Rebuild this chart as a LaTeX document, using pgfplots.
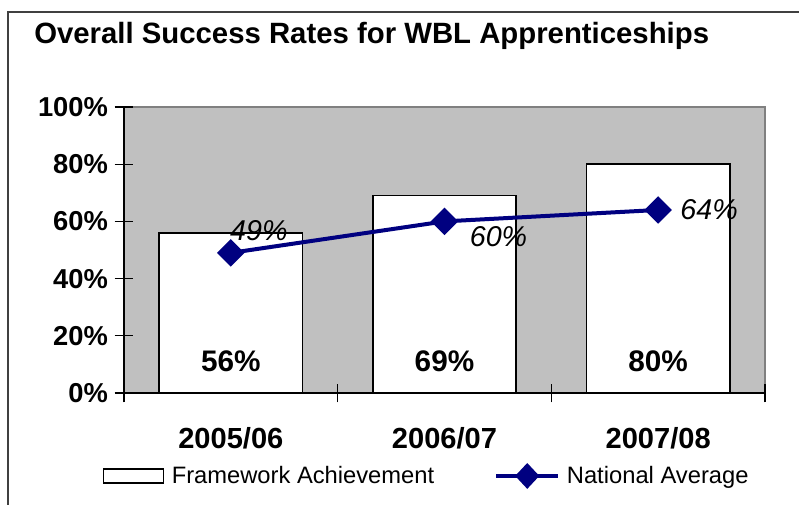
\documentclass[border=0pt]{standalone}
\usepackage{pgfplots}
\pgfplotsset{compat=1.18}
\usepackage{pgfplotstable}
\usepackage{fontspec}
\setmainfont{Liberation Sans}
\definecolor{navyline}{HTML}{000080}
\definecolor{plotgray}{HTML}{C0C0C0}
\definecolor{bordergray}{HTML}{808080}
\definecolor{framegray}{HTML}{404040}

\pgfplotstableread{
x y
0 56
1 69
2 80
}\framework

\pgfplotstableread{
x y lbl
0 11 56
1 11 69
2 11 80
}\barlabels

\pgfplotstableread{
x y dx dy lbl
0 49 28 22 49
1 60 54 -15 60
2 64 51 0 64
}\national

\begin{document}
\begin{tikzpicture}
\useasboundingbox (0,0) rectangle (599.25pt,-378.75pt);
\draw[framegray, line width=1.2pt] (6pt,-380pt) -- (6pt,-9pt) -- (600pt,-9pt);
\node[anchor=base west, font=\fontsize{22}{26}\selectfont\bfseries, inner sep=0pt] at (25.5pt,-32.5pt) {Overall Success Rates for WBL Apprenticeships};
\begin{axis}[
  at={(93pt,-294.75pt)}, anchor=south west,
  scale only axis, width=480.75pt, height=214.5pt,
  xmin=-0.5, xmax=2.5, ymin=0, ymax=100,
  axis background/.style={fill=plotgray, draw=bordergray, line width=1.2pt},
  axis x line*=bottom, axis y line*=left,
  axis line style={black, line width=1pt, -},
  tick align=center, major tick length=14pt,
  tick style={black, line width=0.8pt},
  ytick={0,20,40,60,80,100},
  yticklabels={0\%,20\%,40\%,60\%,80\%,100\%},
  yticklabel style={font=\fontsize{20.5}{23}\selectfont\bfseries, xshift=-1.5pt},
  xtick={-0.5,0.5,1.5,2.5}, xticklabels={},
  extra x ticks={0,1,2},
  extra x tick labels={2005/06,2006/07,2007/08},
  extra x tick style={major tick length=0pt, tick label style={font=\fontsize{21.8}{25}\selectfont\bfseries, yshift=-22.5pt}},
  legend columns=2,
  legend style={at={(-0.033,-0.29)}, anchor=west, draw=none, fill=none, inner sep=0pt,
    font=\fontsize{17.8}{20}\selectfont, /tikz/every even column/.append style={column sep=43pt}},
  legend cell align=left,
  clip=false,
]
\addplot[ybar, bar width=0.67, draw=black, line width=1.2pt, fill=white,
  legend image code/.code={\draw[black, line width=1pt, fill=white] (0pt,-5.25pt) rectangle (45pt,5.25pt); \path[draw=none, fill=none] (0pt,0pt) -- (49pt,0pt);}]
  table[x=x,y=y] {\framework};
\addlegendentry{Framework Achievement}
\addplot[navyline, line width=3pt, mark=square*, mark size=5.8pt, mark options={rotate=45, solid},
  nodes near coords={\pgfplotspointmeta\%},
  point meta=explicit symbolic,
  visualization depends on={\thisrow{dx} \as \dx},
  visualization depends on={\thisrow{dy} \as \dy},
  every node near coord/.append style={anchor=center, black, font=\fontsize{21.5}{24}\selectfont\itshape, xshift=0.75*\dx pt, yshift=0.75*\dy pt},
  legend image code/.code={\draw[navyline, line width=3pt] (0pt,0pt) -- (46.5pt,0pt);
     \fill[navyline] (23.25pt,0pt) +(-7pt,0pt) -- +(0pt,7.5pt) -- +(7pt,0pt) -- +(0pt,-7.5pt) -- cycle; \path[draw=none, fill=none] (0pt,0pt) -- (51pt,0pt);}]
  table[x=x,y=y,meta=lbl] {\national};
\addlegendentry{National Average}
\addplot[draw=none, mark=none, forget plot,
  nodes near coords={\pgfplotspointmeta\%},
  point meta=explicit symbolic,
  every node near coord/.append style={anchor=center, black, font=\fontsize{22.3}{25}\selectfont\bfseries}]
  table[x=x,y=y,meta=lbl] {\barlabels};
\end{axis}
\end{tikzpicture}
\end{document}
